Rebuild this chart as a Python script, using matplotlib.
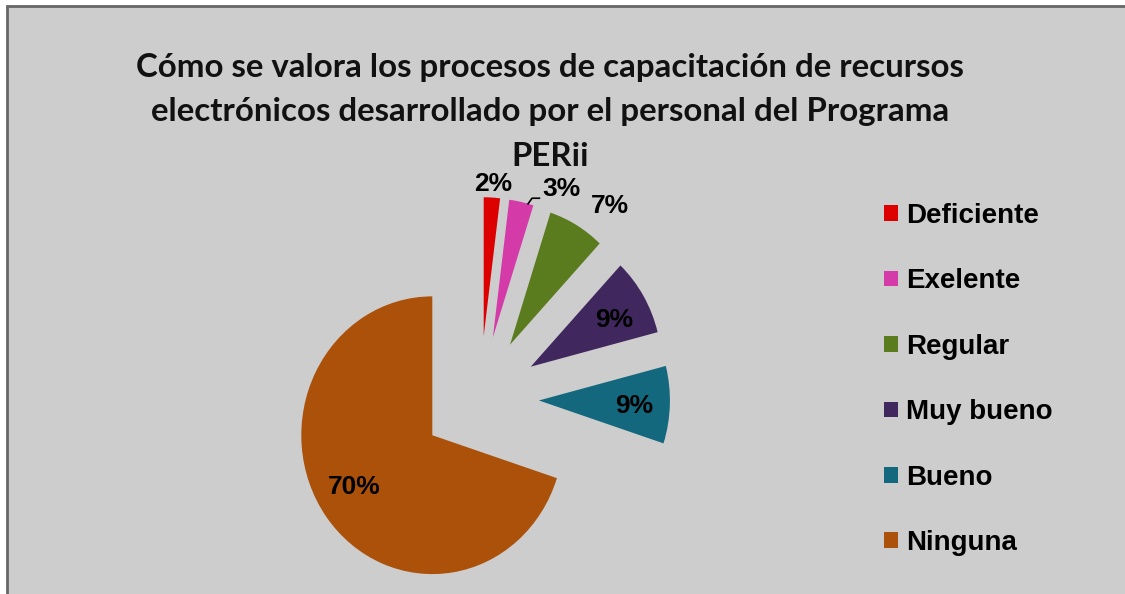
import matplotlib
matplotlib.use('Agg')
import math
import numpy as np
import matplotlib.pyplot as plt
from matplotlib.patches import Rectangle

categories = ['Deficiente', 'Exelente', 'Regular', 'Muy bueno', 'Bueno', 'Ninguna']
values = [2, 3, 7, 9, 9, 70]
colors = ['#dc0000', '#d43aa8', '#5b7b1f', '#40285e', '#14687e', '#ab510a']
title = ('Cómo se valora los procesos de capacitación de recursos\n'
         'electrónicos desarrollado por el personal del Programa\n'
         'PERii')

# label placement style (distance from wedge apex in radii, angular shift in deg)
label_dist = [1.10, 1.19, 1.26, 0.72, 0.73, 0.70]
label_shift = [0, -13.6, -6.8, -3, -1.3, -4]

W, H = 1125, 594
SY = 1.06           # vertical stretch of the original image
R_PX = 131          # pie radius in pixels (horizontal)
CX_PX, CY_PX = 480, 398.5

fig = plt.figure(figsize=(W / 100, H / 100), dpi=100)
fig.patch.set_facecolor('white')
bg = Rectangle((6.5 / W, -0.01), 1.1, 1 - 5.5 / H + 0.01, transform=fig.transFigure,
               facecolor='#cdcdcd', edgecolor='#666666', lw=2, zorder=-5)
fig.patches.append(bg)

ax = fig.add_axes([0, 0, 1, 1])
ax.set_facecolor('none')

wedges, texts, autotexts = ax.pie(
    values, colors=colors, startangle=90, counterclock=False,
    explode=[0.45] * len(values), radius=1, center=(0, 0),
    autopct=lambda p: f'{p:.0f}%', pctdistance=0.7,
    wedgeprops=dict(linewidth=0),
    textprops=dict(fontsize=19, fontweight='bold', family='Liberation Sans', color='black'))

ax.set_aspect('auto')
ax.set_xlim(-CX_PX / R_PX, (W - CX_PX) / R_PX)
ax.set_ylim(-(H - CY_PX) / (R_PX * SY), CY_PX / (R_PX * SY))
ax.axis('off')

for i, (w, t) in enumerate(zip(wedges, autotexts)):
    xc, yc = w.center
    m = math.radians((w.theta1 + w.theta2) / 2 + label_shift[i])
    t.set_position((xc + label_dist[i] * math.cos(m), yc + label_dist[i] * math.sin(m)))
    t.set_ha('center')
    t.set_va('center')

# leader line for the "3%" label
w = wedges[1]
xc, yc = w.center
a0 = math.radians((w.theta1 + w.theta2) / 2 - 3)
p0 = (xc + math.cos(a0), yc + math.sin(a0))
lx, ly = autotexts[1].get_position()
p1 = (p0[0] + 0.03, p0[1] + 0.04)
p2 = (lx - 0.17, p1[1])
ax.plot([p0[0], p1[0], p2[0]], [p0[1], p1[1], p2[1]], color='black', lw=1.2)

leg = ax.legend(wedges, categories, loc='upper left',
                bbox_to_anchor=(884 / W, 1 - 203 / H), bbox_transform=fig.transFigure,
                frameon=False, handlelength=0.5, handleheight=0.5, handletextpad=0.3,
                labelspacing=1.42, borderpad=0, borderaxespad=0,
                prop=dict(family='Liberation Sans', weight='bold', size=20))

fig.text(550 / W, 1 - 112 / H, title, ha='center', va='center', fontsize=23.8,
         fontweight='bold', family='Lato', linespacing=1.63, color='#111111')

fig.savefig('out.png', dpi=100, facecolor=fig.get_facecolor())
